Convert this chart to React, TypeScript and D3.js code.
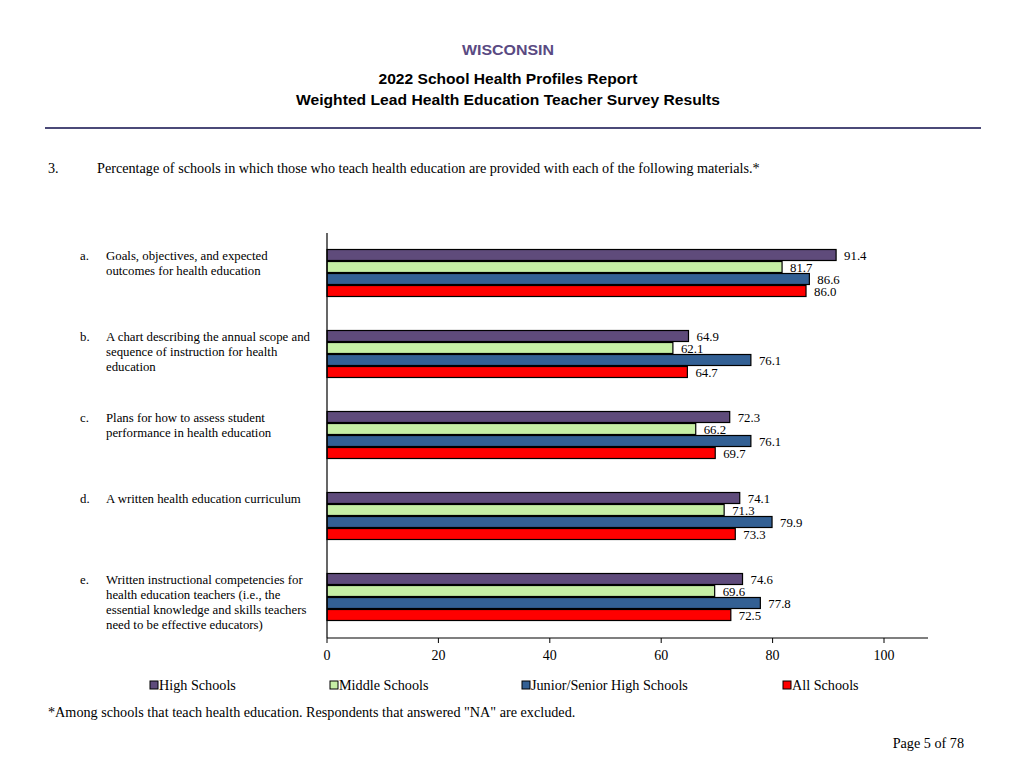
import React from "react";
import * as d3 from "d3";

const letters = ["a.", "b.", "c.", "d.", "e."];
const categoryLines = [
  ["Goals, objectives, and expected", "outcomes for health education"],
  ["A chart describing the annual scope and", "sequence of instruction for health", "education"],
  ["Plans for how to assess student", "performance in health education"],
  ["A written health education curriculum"],
  ["Written instructional competencies for", "health education teachers (i.e., the", "essential knowledge and skills teachers", "need to be effective educators)"],
];
const seriesNames = ["High Schools", "Middle Schools", "Junior/Senior High Schools", "All Schools"];
const seriesColors = ["#5f4b7b", "#c6efa5", "#336094", "#ff0000"];
const highSchools = [91.4, 64.9, 72.3, 74.1, 74.6];
const middleSchools = [81.7, 62.1, 66.2, 71.3, 69.6];
const juniorSenior = [86.6, 76.1, 76.1, 79.9, 77.8];
const allSchools = [86.0, 64.7, 69.7, 73.3, 72.5];
const xTicks = [0, 20, 40, 60, 80, 100];

const serif = "'Liberation Serif', 'Times New Roman', serif";
const sans = "'Liberation Sans', Arial, sans-serif";

export default function App() {
  const values = [highSchools, middleSchools, juniorSenior, allSchools];
  const x = d3.scaleLinear().domain([0, 100]).range([327, 884]);
  const y = d3.scaleBand<number>().domain(d3.range(5)).range([233, 638]).paddingInner(0).paddingOuter(0);
  const barH = 12;
  const groupH = barH * 4;
  const legendX = [150, 330, 522, 783];

  return (
    <svg width={1024} height={768} style={{ position: "absolute", left: 0, top: 0 }}>
      <rect width={1024} height={768} fill="#fff" />
      <text x={508} y={55} textAnchor="middle" fontFamily={sans} fontWeight="bold" fontSize={15} fill="#5a4a82" textLength={92} lengthAdjust="spacingAndGlyphs">WISCONSIN</text>
      <text x={508} y={84} textAnchor="middle" fontFamily={sans} fontWeight="bold" fontSize={15.5} fill="#000" textLength={259} lengthAdjust="spacingAndGlyphs">2022 School Health Profiles Report</text>
      <text x={508} y={105} textAnchor="middle" fontFamily={sans} fontWeight="bold" fontSize={15.5} fill="#000" textLength={424} lengthAdjust="spacingAndGlyphs">Weighted Lead Health Education Teacher Survey Results</text>
      <line x1={45} x2={981} y1={128} y2={128} stroke="#4b4a78" strokeWidth={2} />

      <text x={48} y={173} fontFamily={serif} fontSize={14.2}>3.</text>
      <text x={97} y={173} fontFamily={serif} fontSize={14.2}>Percentage of schools in which those who teach health education are provided with each of the following materials.*</text>

      {letters.map((l, i) => {
        const top = y(i)! + (y.bandwidth() - groupH) / 2;
        return (
          <g key={i}>
            <text x={80} y={top + 10} fontFamily={serif} fontSize={12.8}>{l}</text>
            {categoryLines[i].map((ln, j) => (
              <text key={j} x={106} y={top + 10 + j * 15.3} fontFamily={serif} fontSize={12.8}>{ln}</text>
            ))}
          </g>
        );
      })}

      {values.map((vals, s) =>
        vals.map((v, i) => {
          const top = y(i)! + (y.bandwidth() - groupH) / 2 + s * barH;
          return (
            <g key={`${s}-${i}`}>
              <rect x={x(0)} y={top} width={x(v) - x(0)} height={barH - 1} fill={seriesColors[s]} stroke="#000" strokeWidth={1.2} />
              <text x={x(v) + 8} y={top + 10} fontFamily={serif} fontSize={12.8}>{v.toFixed(1)}</text>
            </g>
          );
        })
      )}

      <line x1={327} x2={327} y1={233} y2={638} stroke="#000" strokeWidth={1.2} />
      <line x1={327} x2={928} y1={638} y2={638} stroke="#000" strokeWidth={1.2} />
      {xTicks.map((t) => (
        <g key={t}>
          <line x1={x(t)} x2={x(t)} y1={638} y2={643} stroke="#000" strokeWidth={1} />
          <text x={x(t)} y={660} textAnchor="middle" fontFamily={serif} fontSize={14}>{t}</text>
        </g>
      ))}

      {seriesNames.map((n, i) => (
        <g key={n}>
          <rect x={legendX[i]} y={681} width={8} height={8} fill={seriesColors[i]} stroke="#000" strokeWidth={1} />
          <text x={legendX[i] + 9} y={690} fontFamily={serif} fontSize={14.2}>{n}</text>
        </g>
      ))}

      <text x={48} y={717} fontFamily={serif} fontSize={14.2}>*Among schools that teach health education. Respondents that answered "NA" are excluded.</text>
      <text x={964} y={748} textAnchor="end" fontFamily={serif} fontSize={14.2}>Page 5 of 78</text>
    </svg>
  );
}
